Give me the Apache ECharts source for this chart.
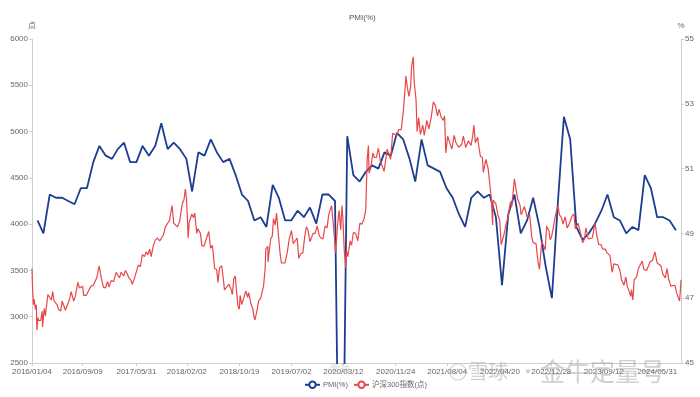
<!DOCTYPE html>
<html>
<head>
<meta charset="utf-8">
<script src="https://cdn.jsdelivr.net/npm/echarts@6/dist/echarts.min.js"></script>
<style>
  html, body { margin: 0; padding: 0; background: #fff; }
  #chart { width: 700px; height: 397px; }
</style>
</head>
<body>
<div id="chart"></div>
<script>
// x 轴刻度标签
const tickDates = ['2016/01/04', '2016/09/09', '2017/05/31', '2018/02/02', '2018/10/19', '2019/07/02',
  '2020/03/12', '2020/11/24', '2021/08/04', '2022/04/20', '2022/12/28', '2023/09/12', '2024/05/31']

// 制造业 PMI（%），月末
const pmi = [
  ['2016-01-31', 49.4], ['2016-02-29', 49.0], ['2016-03-31', 50.2], ['2016-04-30', 50.1], ['2016-05-31', 50.1], ['2016-06-30', 50.0],
  ['2016-07-31', 49.9], ['2016-08-31', 50.4], ['2016-09-30', 50.4], ['2016-10-31', 51.2], ['2016-11-30', 51.7], ['2016-12-31', 51.4],
  ['2017-01-31', 51.3], ['2017-02-28', 51.6], ['2017-03-31', 51.8], ['2017-04-30', 51.2], ['2017-05-31', 51.2], ['2017-06-30', 51.7],
  ['2017-07-31', 51.4], ['2017-08-31', 51.7], ['2017-09-30', 52.4], ['2017-10-31', 51.6], ['2017-11-30', 51.8], ['2017-12-31', 51.6],
  ['2018-01-31', 51.3], ['2018-02-28', 50.3], ['2018-03-31', 51.5], ['2018-04-30', 51.4], ['2018-05-31', 51.9], ['2018-06-30', 51.5],
  ['2018-07-31', 51.2], ['2018-08-31', 51.3], ['2018-09-30', 50.8], ['2018-10-31', 50.2], ['2018-11-30', 50.0], ['2018-12-31', 49.4],
  ['2019-01-31', 49.5], ['2019-02-28', 49.2], ['2019-03-31', 50.5], ['2019-04-30', 50.1], ['2019-05-31', 49.4], ['2019-06-30', 49.4],
  ['2019-07-31', 49.7], ['2019-08-31', 49.5], ['2019-09-30', 49.8], ['2019-10-31', 49.3], ['2019-11-30', 50.2], ['2019-12-31', 50.2],
  ['2020-01-31', 50.0], ['2020-02-29', 35.7], ['2020-03-31', 52.0], ['2020-04-30', 50.8], ['2020-05-31', 50.6], ['2020-06-30', 50.9],
  ['2020-07-31', 51.1], ['2020-08-31', 51.0], ['2020-09-30', 51.5], ['2020-10-31', 51.4], ['2020-11-30', 52.1], ['2020-12-31', 51.9],
  ['2021-01-31', 51.3], ['2021-02-28', 50.6], ['2021-03-31', 51.9], ['2021-04-30', 51.1], ['2021-05-31', 51.0], ['2021-06-30', 50.9],
  ['2021-07-31', 50.4], ['2021-08-31', 50.1], ['2021-09-30', 49.6], ['2021-10-31', 49.2], ['2021-11-30', 50.1], ['2021-12-31', 50.3],
  ['2022-01-31', 50.1], ['2022-02-28', 50.2], ['2022-03-31', 49.5], ['2022-04-30', 47.4], ['2022-05-31', 49.6], ['2022-06-30', 50.2],
  ['2022-07-31', 49.0], ['2022-08-31', 49.4], ['2022-09-30', 50.1], ['2022-10-31', 49.2], ['2022-11-30', 48.0], ['2022-12-31', 47.0],
  ['2023-01-31', 50.1], ['2023-02-28', 52.6], ['2023-03-31', 51.9], ['2023-04-30', 49.2], ['2023-05-31', 48.8], ['2023-06-30', 49.0],
  ['2023-07-31', 49.3], ['2023-08-31', 49.7], ['2023-09-30', 50.2], ['2023-10-31', 49.5], ['2023-11-30', 49.4], ['2023-12-31', 49.0],
  ['2024-01-31', 49.2], ['2024-02-29', 49.1], ['2024-03-31', 50.8], ['2024-04-30', 50.4], ['2024-05-31', 49.5], ['2024-06-30', 49.5],
  ['2024-07-31', 49.4], ['2024-08-31', 49.1]
]

// 沪深300指数（点）
const csi300 = [
  ['2016-01-04', 3520], ['2016-01-07', 3290], ['2016-01-11', 3130], ['2016-01-14', 3190], ['2016-01-18', 3130], ['2016-01-21', 3080],
  ['2016-01-25', 3130], ['2016-01-28', 2855], ['2016-02-02', 2990], ['2016-02-05', 2960], ['2016-02-16', 2960], ['2016-02-23', 3060],
  ['2016-02-25', 2890], ['2016-02-29', 2880], ['2016-03-04', 3090], ['2016-03-10', 3010], ['2016-03-17', 3150], ['2016-03-22', 3240],
  ['2016-03-30', 3210], ['2016-04-08', 3180], ['2016-04-15', 3270], ['2016-04-21', 3170], ['2016-04-29', 3160], ['2016-05-06', 3130],
  ['2016-05-13', 3080], ['2016-05-24', 3060], ['2016-05-31', 3170], ['2016-06-08', 3160], ['2016-06-16', 3070], ['2016-06-24', 3080],
  ['2016-06-30', 3150], ['2016-07-08', 3200], ['2016-07-14', 3270], ['2016-07-27', 3170], ['2016-08-04', 3220], ['2016-08-16', 3370],
  ['2016-08-24', 3310], ['2016-09-01', 3300], ['2016-09-09', 3330], ['2016-09-13', 3230], ['2016-09-26', 3230], ['2016-10-12', 3300],
  ['2016-10-21', 3330], ['2016-10-31', 3340], ['2016-11-09', 3350], ['2016-11-17', 3420], ['2016-11-29', 3550], ['2016-12-05', 3470],
  ['2016-12-14', 3370], ['2016-12-20', 3320], ['2016-12-30', 3310],
  ['2017-01-09', 3380], ['2017-01-16', 3320], ['2017-01-26', 3390], ['2017-02-08', 3380], ['2017-02-20', 3480], ['2017-02-28', 3450],
  ['2017-03-09', 3420], ['2017-03-17', 3480], ['2017-03-29', 3440], ['2017-04-07', 3500], ['2017-04-14', 3470], ['2017-04-24', 3420],
  ['2017-05-05', 3390], ['2017-05-10', 3350], ['2017-05-19', 3400], ['2017-05-31', 3490], ['2017-06-09', 3560], ['2017-06-19', 3540],
  ['2017-06-29', 3670], ['2017-07-10', 3650], ['2017-07-18', 3700], ['2017-07-26', 3670], ['2017-08-04', 3730], ['2017-08-11', 3650],
  ['2017-08-22', 3770], ['2017-09-01', 3830], ['2017-09-11', 3850], ['2017-09-22', 3820], ['2017-10-10', 3880], ['2017-10-20', 3970],
  ['2017-10-31', 4010], ['2017-11-09', 4040], ['2017-11-22', 4200], ['2017-11-30', 4010], ['2017-12-08', 4020], ['2017-12-18', 3970],
  ['2017-12-29', 4030],
  ['2018-01-05', 4140], ['2018-01-12', 4230], ['2018-01-19', 4260], ['2018-01-26', 4380], ['2018-02-01', 4270], ['2018-02-06', 4000],
  ['2018-02-09', 3850], ['2018-02-14', 4020], ['2018-02-27', 4110], ['2018-03-07', 4070], ['2018-03-13', 4120], ['2018-03-23', 3900],
  ['2018-03-29', 3950], ['2018-04-10', 3900], ['2018-04-17', 3770], ['2018-04-27', 3760], ['2018-05-09', 3840], ['2018-05-21', 3920],
  ['2018-05-30', 3740], ['2018-06-08', 3770], ['2018-06-19', 3520], ['2018-06-29', 3510], ['2018-07-05', 3370], ['2018-07-13', 3530],
  ['2018-07-24', 3550], ['2018-08-02', 3380], ['2018-08-06', 3290], ['2018-08-15', 3280], ['2018-08-28', 3350], ['2018-09-07', 3300],
  ['2018-09-14', 3240], ['2018-09-21', 3410], ['2018-09-28', 3440], ['2018-10-11', 3120], ['2018-10-18', 3080], ['2018-10-22', 3230],
  ['2018-10-30', 3130], ['2018-11-07', 3190], ['2018-11-19', 3280], ['2018-11-28', 3210], ['2018-12-03', 3260], ['2018-12-14', 3140],
  ['2018-12-24', 3080], ['2018-12-28', 3010],
  ['2019-01-03', 2965], ['2019-01-14', 3080], ['2019-01-21', 3170], ['2019-01-31', 3200], ['2019-02-14', 3330], ['2019-02-22', 3520],
  ['2019-02-25', 3730], ['2019-03-07', 3760], ['2019-03-08', 3590], ['2019-03-14', 3710], ['2019-03-21', 3840], ['2019-03-29', 3870],
  ['2019-04-04', 4060], ['2019-04-12', 3990], ['2019-04-19', 4120], ['2019-04-25', 3960], ['2019-05-06', 3690], ['2019-05-13', 3580],
  ['2019-05-20', 3600], ['2019-05-30', 3580], ['2019-06-11', 3700], ['2019-06-20', 3840], ['2019-07-01', 3930], ['2019-07-10', 3790],
  ['2019-07-19', 3810], ['2019-07-29', 3850], ['2019-08-06', 3630], ['2019-08-15', 3680], ['2019-08-26', 3690], ['2019-09-04', 3860],
  ['2019-09-12', 3970], ['2019-09-20', 3940], ['2019-09-30', 3810], ['2019-10-15', 3900], ['2019-10-25', 3900], ['2019-11-05', 3980],
  ['2019-11-14', 3880], ['2019-11-22', 3850], ['2019-12-03', 3840], ['2019-12-13', 3980], ['2019-12-23', 3960], ['2019-12-31', 4100],
  ['2020-01-08', 4110], ['2020-01-14', 4200], ['2020-01-23', 3990], ['2020-02-03', 3690], ['2020-02-11', 3950], ['2020-02-20', 4150],
  ['2020-02-28', 3940], ['2020-03-05', 4200], ['2020-03-10', 4050], ['2020-03-16', 3730], ['2020-03-19', 3640], ['2020-03-23', 3530],
  ['2020-03-27', 3720], ['2020-04-03', 3650], ['2020-04-14', 3820], ['2020-04-21', 3770], ['2020-04-30', 3910], ['2020-05-11', 3900],
  ['2020-05-22', 3820], ['2020-06-01', 4010], ['2020-06-11', 4000], ['2020-06-22', 4060], ['2020-06-30', 4160], ['2020-07-03', 4390],
  ['2020-07-07', 4700], ['2020-07-13', 4850], ['2020-07-16', 4550], ['2020-07-24', 4600], ['2020-08-04', 4770], ['2020-08-11', 4720],
  ['2020-08-21', 4720], ['2020-08-31', 4820], ['2020-09-09', 4690], ['2020-09-18', 4710], ['2020-09-28', 4570], ['2020-10-13', 4810],
  ['2020-10-22', 4790], ['2020-10-30', 4700], ['2020-11-09', 4980], ['2020-11-18', 4960], ['2020-11-30', 4960], ['2020-12-08', 5020],
  ['2020-12-21', 5020], ['2020-12-31', 5210],
  ['2021-01-06', 5370], ['2021-01-13', 5600], ['2021-01-20', 5480], ['2021-01-28', 5380], ['2021-02-05', 5480], ['2021-02-10', 5700],
  ['2021-02-18', 5807], ['2021-02-23', 5530], ['2021-03-04', 5340], ['2021-03-09', 5000], ['2021-03-17', 5150], ['2021-03-25', 4970],
  ['2021-04-06', 5070], ['2021-04-13', 4960], ['2021-04-26', 5120], ['2021-05-06', 5030], ['2021-05-17', 5150], ['2021-05-28', 5320],
  ['2021-06-07', 5280], ['2021-06-17', 5170], ['2021-06-25', 5240], ['2021-07-06', 5150], ['2021-07-16', 5120], ['2021-07-22', 5170],
  ['2021-07-28', 4770], ['2021-08-06', 4950], ['2021-08-18', 4870], ['2021-08-27', 4810], ['2021-09-07', 4960], ['2021-09-16', 4880],
  ['2021-09-29', 4830], ['2021-10-14', 4860], ['2021-10-22', 4950], ['2021-11-03', 4830], ['2021-11-16', 4900], ['2021-11-29', 4850],
  ['2021-12-07', 4950], ['2021-12-13', 5070], ['2021-12-20', 4880], ['2021-12-31', 4940],
  ['2022-01-05', 4860], ['2022-01-14', 4730], ['2022-01-24', 4720], ['2022-01-28', 4560], ['2022-02-10', 4700], ['2022-02-21', 4600],
  ['2022-02-28', 4580], ['2022-03-08', 4290], ['2022-03-15', 3990], ['2022-03-17', 4260], ['2022-03-31', 4220], ['2022-04-11', 4090],
  ['2022-04-19', 4040], ['2022-04-26', 3780], ['2022-05-10', 3890], ['2022-05-19', 3990], ['2022-05-31', 4090], ['2022-06-10', 4240],
  ['2022-06-17', 4190], ['2022-06-30', 4490], ['2022-07-05', 4480], ['2022-07-15', 4280], ['2022-07-28', 4200], ['2022-08-02', 4100],
  ['2022-08-18', 4190], ['2022-08-31', 4080], ['2022-09-13', 4100], ['2022-09-23', 3860], ['2022-09-30', 3800], ['2022-10-14', 3790],
  ['2022-10-24', 3590], ['2022-10-31', 3510], ['2022-11-11', 3810], ['2022-11-18', 3780], ['2022-11-28', 3720], ['2022-12-05', 3980],
  ['2022-12-16', 3930], ['2022-12-23', 3830], ['2022-12-30', 3870],
  ['2023-01-09', 3990], ['2023-01-18', 4100], ['2023-01-30', 4200], ['2023-02-06', 4100], ['2023-02-16', 4070], ['2023-02-24', 4000],
  ['2023-03-06', 4080], ['2023-03-16', 3960], ['2023-03-28', 4010], ['2023-04-07', 4080], ['2023-04-18', 4110], ['2023-04-25', 3950],
  ['2023-05-09', 4010], ['2023-05-19', 3920], ['2023-05-31', 3800], ['2023-06-09', 3840], ['2023-06-16', 3960], ['2023-06-28', 3840],
  ['2023-07-07', 3820], ['2023-07-17', 3850], ['2023-07-31', 4010], ['2023-08-09', 3870], ['2023-08-18', 3780], ['2023-08-28', 3780],
  ['2023-09-07', 3730], ['2023-09-19', 3730], ['2023-09-28', 3690], ['2023-10-12', 3660], ['2023-10-23', 3480], ['2023-10-31', 3570],
  ['2023-11-08', 3590], ['2023-11-20', 3560], ['2023-11-30', 3500], ['2023-12-08', 3400], ['2023-12-20', 3340], ['2023-12-29', 3430],
  ['2024-01-05', 3330], ['2024-01-12', 3290], ['2024-01-22', 3220], ['2024-01-26', 3290], ['2024-02-02', 3180], ['2024-02-08', 3400],
  ['2024-02-20', 3430], ['2024-02-29', 3520], ['2024-03-11', 3570], ['2024-03-18', 3600], ['2024-03-27', 3510], ['2024-04-09', 3500],
  ['2024-04-16', 3510], ['2024-04-26', 3590], ['2024-05-08', 3610], ['2024-05-20', 3700], ['2024-05-31', 3580], ['2024-06-07', 3580],
  ['2024-06-18', 3550], ['2024-06-28', 3460], ['2024-07-10', 3420], ['2024-07-19', 3520], ['2024-07-26', 3410], ['2024-08-06', 3330],
  ['2024-08-15', 3330], ['2024-08-26', 3340], ['2024-09-03', 3260], ['2024-09-13', 3200], ['2024-09-18', 3170], ['2024-09-24', 3350],
  ['2024-09-25', 3400]
]

const FONT = '"Liberation Sans", "Noto Sans CJK SC", sans-serif'
const axisGrey = '#cfcfcf'
const labelGrey = '#666'

// 'YYYY/MM/DD' 转本地时间戳
function toTime(s) {
  const p = s.split('/').map(Number)
  return new Date(p[0], p[1] - 1, p[2]).getTime()
}
const tickValues = tickDates.map(toTime)

// 两个 y 轴共用的样式
function valueAxis(name, min, max, interval) {
  return {
    type: 'value',
    name: name,
    nameGap: 9,
    nameRotate: 0,
    nameTextStyle: { fontSize: 8, color: labelGrey },
    min: min,
    max: max,
    interval: interval,
    axisLine: { show: true, lineStyle: { color: axisGrey } },
    axisTick: { show: true, length: 3, lineStyle: { color: axisGrey } },
    axisLabel: { fontSize: 8, color: labelGrey, margin: 4, formatter: v => String(v) },
    splitLine: { show: false },
  }
}

const chart = echarts.init(document.getElementById('chart'))
chart.setOption({
  animation: false,
  backgroundColor: '#fff',
  textStyle: { fontFamily: FONT },
  title: {
    text: 'PMI(%)',
    left: 344,
    top: 9,
    textStyle: { fontSize: 8, fontWeight: 'normal', color: '#555', fontFamily: FONT },
  },
  legend: {
    data: ['PMI(%)', '沪深300指数(点)'],
    left: 299,
    bottom: 3,
    itemWidth: 15,
    itemHeight: 8,
    itemGap: 5,
    textStyle: { fontSize: 7.5, color: labelGrey, fontFamily: FONT, padding: [0, 0, 0, -2] },
  },
  grid: { left: 32, right: 19, top: 39, bottom: 34, outerBoundsMode: 'none' },
  xAxis: {
    type: 'time',
    min: '2016-01-04',
    max: '2024-09-25',
    axisLine: { show: true, lineStyle: { color: axisGrey } },
    axisTick: { show: true, customValues: tickValues, length: 3, lineStyle: { color: axisGrey } },
    axisLabel: {
      customValues: tickValues,
      formatter: '{yyyy}/{MM}/{dd}',
      fontSize: 8,
      color: labelGrey,
      margin: 5,
      hideOverlap: false,
    },
    splitLine: { show: false },
  },
  yAxis: [
    valueAxis('点', 2500, 6000, 500),
    valueAxis('%', 45, 55, 2),
  ],
  series: [
    {
      name: 'PMI(%)',
      type: 'line',
      yAxisIndex: 1,
      data: pmi,
      showSymbol: false,
      symbol: 'emptyCircle',
      lineStyle: { color: '#1c3d91', width: 1.8 },
      itemStyle: { color: '#1c3d91' },
      clip: true,
    },
    {
      name: '沪深300指数(点)',
      type: 'line',
      yAxisIndex: 0,
      data: csi300,
      showSymbol: false,
      symbol: 'emptyCircle',
      lineStyle: { color: '#e8474a', width: 1.2 },
      itemStyle: { color: '#e8474a' },
    },
  ],
  // 水印
  graphic: [
    {
      type: 'circle',
      shape: { cx: 458, cy: 372, r: 8 },
      style: { fill: 'none', stroke: 'rgba(150,150,150,0.45)', lineWidth: 1.2 },
      z: 100,
    },
    {
      type: 'text',
      left: 468,
      top: 361,
      style: { text: '雪球', fontSize: 20, fill: 'rgba(150,150,150,0.45)', fontFamily: '"Noto Sans CJK SC"' },
      z: 100,
    },
    {
      type: 'text',
      left: 518,
      top: 361,
      style: { text: '·', fontSize: 20, fill: 'rgba(150,150,150,0.45)', fontFamily: '"Noto Sans CJK SC"' },
      z: 100,
    },
    {
      type: 'text',
      left: 540,
      top: 359,
      style: { text: '金牛定量号', fontSize: 25, fill: 'rgba(150,150,150,0.45)', fontFamily: '"Noto Sans CJK SC"' },
      z: 100,
    },
    {
      type: 'text',
      left: 330,
      top: 364,
      style: { text: '雪球', fontSize: 10, fill: 'rgba(160,160,160,0.4)', fontFamily: '"Noto Sans CJK SC"' },
      z: 100,
    },
  ],
})
</script>
</body>
</html>
